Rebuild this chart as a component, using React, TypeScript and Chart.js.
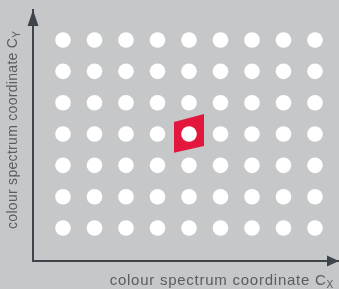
import { useEffect, useRef } from 'react';
import { Chart, registerables } from 'chart.js';

Chart.register(...registerables);

// ---- data ----
const columnValues = [1, 2, 3, 4, 5, 6, 7, 8, 9];
const rowValues = [1, 2, 3, 4, 5, 6, 7];
const highlightTopEdgeX = [4.52, 5.48];
const highlightTopEdgeY = [4.38, 4.64];
const highlightBottomEdgeX = [4.52, 5.48];
const highlightBottomEdgeY = [3.4, 3.62];
const xAxisTitle = 'colour spectrum coordinate C';
const xAxisSubscript = 'X';
const yAxisTitle = 'colour spectrum coordinate C';
const yAxisSubscript = 'Y';

// ---- styles ----
const BG = '#c6c7c8';
const AXIS = '#3d444b';
const TEXT = '#5b5c5e';
const RED = '#e3173d';
const FONT = '"Liberation Sans", Arial, sans-serif';

const gridPoints = rowValues.flatMap((y) => columnValues.map((x) => ({ x, y })));
const topEdge = highlightTopEdgeX.map((x, i) => ({ x, y: highlightTopEdgeY[i] }));
const bottomEdge = highlightBottomEdgeX.map((x, i) => ({ x, y: highlightBottomEdgeY[i] }));

const decorPlugin = {
  id: 'decor',
  afterDraw(chart: any) {
    const { ctx, chartArea } = chart;
    const { left, right, top, bottom } = chartArea;
    ctx.save();
    // arrowheads
    ctx.fillStyle = AXIS;
    ctx.beginPath();
    ctx.moveTo(left, top);
    ctx.lineTo(left - 5.5, top + 16);
    ctx.lineTo(left + 5.5, top + 16);
    ctx.closePath();
    ctx.fill();
    ctx.beginPath();
    ctx.moveTo(right, bottom);
    ctx.lineTo(right - 12, bottom - 5.5);
    ctx.lineTo(right - 12, bottom + 5.5);
    ctx.closePath();
    ctx.fill();

    // x title
    ctx.fillStyle = TEXT;
    ctx.textBaseline = 'alphabetic';
    ctx.textAlign = 'left';
    (ctx as any).letterSpacing = '0.75px';
    ctx.font = `15px ${FONT}`;
    const xMainW = ctx.measureText(xAxisTitle).width;
    ctx.font = `10px ${FONT}`;
    const xSubW = ctx.measureText(xAxisSubscript).width;
    const xEnd = right - 5;
    const xStart = xEnd - xSubW - xMainW;
    ctx.font = `15px ${FONT}`;
    ctx.fillText(xAxisTitle, xStart, bottom + 24);
    ctx.font = `10px ${FONT}`;
    ctx.fillText(xAxisSubscript, xStart + xMainW, bottom + 27);

    // y title
    ctx.save();
    ctx.translate(left - 16, bottom - 32);
    ctx.rotate(-Math.PI / 2);
    (ctx as any).letterSpacing = '0.3px';
    ctx.font = `14px ${FONT}`;
    const yMainW = ctx.measureText(yAxisTitle).width;
    ctx.fillText(yAxisTitle, 0, 0);
    ctx.font = `10px ${FONT}`;
    ctx.fillText(yAxisSubscript, yMainW, 3);
    ctx.restore();

    ctx.restore();
  },
};

export default function App() {
  const canvasRef = useRef<HTMLCanvasElement | null>(null);

  useEffect(() => {
    document.body.style.margin = '0';
    document.body.style.background = BG;
    const canvas = canvasRef.current;
    if (!canvas) return;
    const chart = new Chart(canvas, {
      type: 'scatter',
      data: {
        datasets: [
          {
            label: 'grid',
            data: gridPoints,
            backgroundColor: '#ffffff',
            borderWidth: 0,
            pointRadius: 7.8,
            pointHoverRadius: 7.8,
            order: 0,
          },
          {
            label: 'highlightTop',
            data: topEdge,
            showLine: true,
            borderWidth: 0,
            borderColor: 'rgba(0,0,0,0)',
            backgroundColor: RED,
            pointRadius: 0,
            fill: '+1',
            order: 1,
          },
          {
            label: 'highlightBottom',
            data: bottomEdge,
            showLine: true,
            borderWidth: 0,
            borderColor: 'rgba(0,0,0,0)',
            backgroundColor: RED,
            pointRadius: 0,
            fill: false,
            order: 2,
          },
        ] as any,
      },
      options: {
        animation: false,
        responsive: false,
        events: [],
        layout: { autoPadding: false, padding: { top: 10, right: 0, left: 0, bottom: 0 } },
        plugins: {
          legend: { display: false },
          tooltip: { enabled: false },
        },
        scales: {
          x: {
            type: 'linear',
            min: 0.0476,
            max: 9.762,
            grid: { display: false },
            ticks: { display: false },
            border: { display: true, color: AXIS, width: 2 },
            afterFit: (s: any) => {
              s.height = 28;
            },
          },
          y: {
            type: 'linear',
            min: -0.053,
            max: 7.958,
            grid: { display: false },
            ticks: { display: false },
            border: { display: true, color: AXIS, width: 2 },
            afterFit: (s: any) => {
              s.width = 33;
            },
          },
        },
      } as any,
      plugins: [decorPlugin],
    });
    return () => chart.destroy();
  }, []);

  return (
    <div style={{ width: 339, height: 289, background: BG }}>
      <canvas ref={canvasRef} width={339} height={289} style={{ display: 'block' }} />
    </div>
  );
}
